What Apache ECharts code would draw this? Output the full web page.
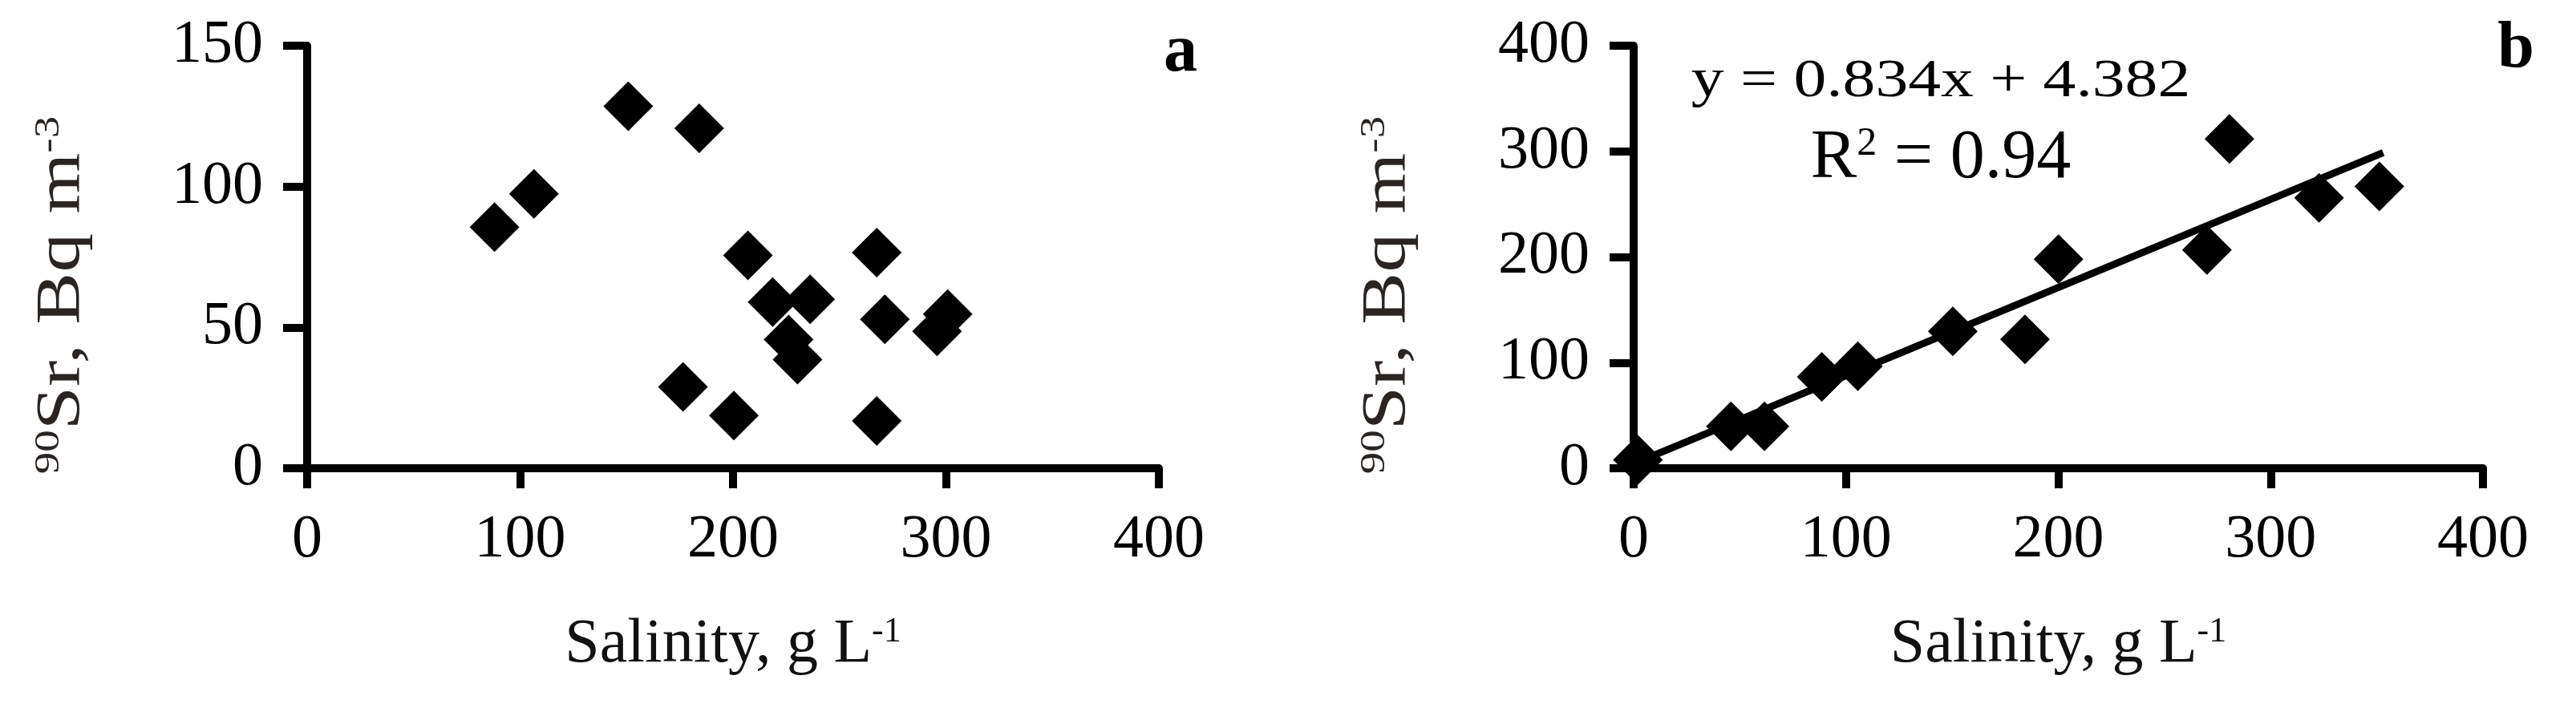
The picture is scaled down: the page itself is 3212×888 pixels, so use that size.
<!DOCTYPE html>
<html><head><meta charset="utf-8">
<script src="https://cdn.jsdelivr.net/npm/echarts/dist/echarts.min.js"></script>
<style>html,body{margin:0;padding:0;background:#fff}#c{width:3212px;height:888px}</style>
</head><body><div id="c"></div>
<script>
// ---- data ----
const xTicks = [0, 100, 200, 300, 400];
const yTicksA = [0, 50, 100, 150];
const yTicksB = [0, 100, 200, 300, 400];
const salinityA = [88, 106.5, 150.8, 184.1, 176.5, 207, 267.5, 218.6, 236.2, 226.1, 230.3, 271.3, 300.8, 295.8, 200.4, 267.5];
const srA       = [85.6, 97.4, 128.5, 120.7, 28.9, 75.6, 76.6, 59, 60, 45.7, 38.6, 52.9, 54.7, 48.6, 18.7, 16.8];
const salinityB = [2, 45.8, 61.6, 88.6, 105.6, 150.3, 184.3, 200.1, 270, 280.6, 322.8, 351.2];
const srB       = [8, 39.7, 39.7, 86.5, 96.6, 129.6, 122, 197.9, 206.7, 311.7, 256, 266.7];
const trendX = [2, 353];
const trendY = [6.0, 298.8];
const equationText = 'y = 0.834x + 4.382';
const r2Text = '0.94';

const FONT = '"Liberation Serif", "Times New Roman", serif';
const zip = (a, b) => a.map((v, i) => [v, b[i]]);

const chart = echarts.init(document.getElementById('c'), null, {renderer: 'canvas'});

function xAx(gi) {
  return {
    gridIndex: gi, type: 'value', min: xTicks[0], max: xTicks[xTicks.length - 1],
    interval: xTicks[1] - xTicks[0],
    axisLine: {show: true, onZero: false, lineStyle: {color: '#000', width: 10}},
    axisTick: {show: true, length: 25, lineStyle: {color: '#000', width: 10}},
    axisLabel: {color: '#000', fontFamily: FONT, fontSize: 76, margin: 52},
    splitLine: {show: false},
    name: '{m|Salinity, g L}{s|-1}', nameLocation: 'middle', nameGap: 182,
    nameTextStyle: {color: '#111', fontFamily: FONT, fontSize: 78,
      rich: {m: {fontFamily: FONT, fontSize: 78, color: '#111'},
             s: {fontFamily: FONT, fontSize: 44, color: '#111', verticalAlign: 'top', lineHeight: 78}}}
  };
}
function yAx(gi, ticks) {
  return {
    gridIndex: gi, type: 'value', min: ticks[0], max: ticks[ticks.length - 1],
    interval: ticks[1] - ticks[0],
    axisLine: {show: true, onZero: false, lineStyle: {color: '#000', width: 10}},
    axisTick: {show: true, length: 30, lineStyle: {color: '#000', width: 10}},
    axisLabel: {color: '#000', fontFamily: FONT, fontSize: 76, margin: 55},
    splitLine: {show: false}
  };
}
function yTitle(cx, cy) {
  return {
    type: 'text', x: cx, y: cy, rotation: Math.PI / 2, scaleX: 1.25,
    style: {
      text: '{s|90}{m|Sr, Bq m}{s|-3}', align: 'center', verticalAlign: 'middle',
      font: '76px ' + FONT, fill: '#2a2522',
      rich: {m: {fontFamily: FONT, fontSize: 78, fill: '#2a2522', lineHeight: 78},
             s: {fontFamily: FONT, fontSize: 44, fill: '#2a2522', verticalAlign: 'top', lineHeight: 78}}
    }
  };
}

const diamond = {symbol: 'diamond', symbolSize: [62, 62], itemStyle: {color: '#000', opacity: 1}};

chart.setOption({
  animation: false,
  backgroundColor: '#fff',
  grid: [
    {left: 383, top: 57, width: 1062, height: 527},
    {left: 2037, top: 57, width: 1059, height: 527}
  ],
  xAxis: [xAx(0), xAx(1)],
  yAxis: [yAx(0, yTicksA), yAx(1, yTicksB)],
  series: [
    Object.assign({type: 'scatter', xAxisIndex: 0, yAxisIndex: 0, data: zip(salinityA, srA)}, diamond),
    Object.assign({type: 'scatter', xAxisIndex: 1, yAxisIndex: 1, data: zip(salinityB, srB)}, diamond),
    {type: 'line', xAxisIndex: 1, yAxisIndex: 1, data: zip(trendX, trendY), showSymbol: false,
     symbol: 'none', lineStyle: {color: '#000', width: 9}, z: 3}
  ],
  graphic: [
    yTitle(78, 368),
    yTitle(1731, 368),
    {type: 'text', x: 1472, y: 66, style: {text: 'a', font: 'bold 84px ' + FONT, fill: '#000', align: 'center', verticalAlign: 'middle'}},
    {type: 'text', x: 3137, y: 62, style: {text: 'b', font: 'bold 82px ' + FONT, fill: '#000', align: 'center', verticalAlign: 'middle'}},
    {type: 'text', x: 2420, y: 102, scaleX: 1.2,
     style: {text: equationText, font: '68px ' + FONT, fill: '#000', align: 'center', verticalAlign: 'middle'}},
    {type: 'text', x: 2420, y: 198, scaleX: 1.0,
     style: {text: '{m|R}{s|2}{m| = ' + r2Text + '}', align: 'center', verticalAlign: 'middle', font: '86px ' + FONT, fill: '#000',
       rich: {m: {fontFamily: FONT, fontSize: 86, fill: '#000', lineHeight: 86},
              s: {fontFamily: FONT, fontSize: 50, fill: '#000', verticalAlign: 'top', lineHeight: 86}}}}
  ]
});
</script></body></html>
